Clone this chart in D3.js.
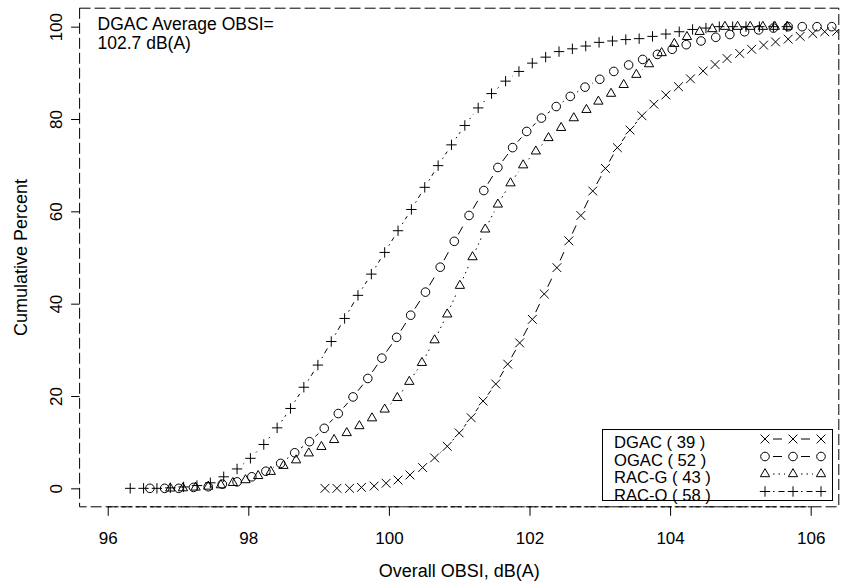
<!DOCTYPE html>
<html><head><meta charset="utf-8">
<script src="https://cdn.jsdelivr.net/npm/d3@7"></script>
<style>
body{margin:0;background:#fff}
svg{display:block}
text{font-family:"Liberation Sans",Arial,Helvetica,sans-serif;fill:#000}
</style>
</head><body>
<svg id="c" width="843" height="587"></svg>
<script>
// ---- data ----
const xTicks = [96, 98, 100, 102, 104, 106];
const yTicks = [0, 20, 40, 60, 80, 100];
const xTitle = "Overall OBSI, dB(A)";
const yTitle = "Cumulative Percent";
const noteLines = ["DGAC Average OBSI=", "102.7 dB(A)"];
const legendLabels = ["DGAC ( 39 )", "OGAC ( 52 )", "RAC-G ( 43 )", "RAC-O ( 58 )"];

const dgacX = [99.09, 99.26, 99.44, 99.61, 99.79, 99.96, 100.13, 100.30, 100.48, 100.65,
  100.83, 101.00, 101.17, 101.34, 101.52, 101.69, 101.86, 102.04, 102.21, 102.39,
  102.56, 102.73, 102.90, 103.08, 103.25, 103.43, 103.60, 103.77, 103.94, 104.12,
  104.29, 104.47, 104.64, 104.81, 104.99, 105.16, 105.33, 105.50, 105.68, 105.85,
  106.03, 106.20, 106.37];
const dgacY = [0, 0, 0, 0.2, 0.5, 1.1, 1.8, 2.9, 4.5, 6.6,
  9.1, 12.0, 15.3, 18.9, 22.6, 26.9, 31.5, 36.6, 42.1, 47.8,
  53.6, 59.1, 64.4, 69.3, 73.8, 77.6, 80.7, 83.2, 85.2, 87.0,
  88.7, 90.4, 91.8, 93.1, 94.2, 95.1, 96.0, 96.7, 97.3, 97.9,
  98.5, 98.9, 99.0];

const ogacX = [96.60, 96.81, 97.01, 97.22, 97.43, 97.63, 97.84, 98.05, 98.25, 98.46,
  98.66, 98.87, 99.08, 99.28, 99.49, 99.70, 99.90, 100.11, 100.31, 100.52,
  100.73, 100.93, 101.14, 101.35, 101.55, 101.76, 101.96, 102.17, 102.38, 102.58,
  102.79, 103.00, 103.20, 103.41, 103.61, 103.82, 104.03, 104.23, 104.44, 104.65,
  104.85, 105.06, 105.26, 105.47, 105.68, 105.88, 106.09, 106.30];
const ogacY = [0, 0, 0, 0.2, 0.35, 0.9, 1.4, 2.5, 3.7, 5.4,
  7.7, 10.1, 13.0, 16.2, 19.8, 23.8, 28.2, 32.7, 37.5, 42.5,
  47.9, 53.5, 59.1, 64.5, 69.5, 73.8, 77.3, 80.2, 82.7, 84.9,
  86.9, 88.6, 90.3, 91.7, 92.9, 94.0, 95.1, 96.1, 96.9, 97.7,
  98.3, 98.9, 99.3, 99.7, 100, 100, 100, 100];

const racgX = [96.89, 97.07, 97.25, 97.43, 97.61, 97.78, 97.96, 98.14, 98.32, 98.50,
  98.68, 98.86, 99.04, 99.22, 99.40, 99.58, 99.76, 99.94, 100.12, 100.29,
  100.47, 100.65, 100.83, 101.01, 101.19, 101.37, 101.55, 101.73, 101.91, 102.09,
  102.27, 102.45, 102.63, 102.81, 102.98, 103.16, 103.34, 103.52, 103.70, 103.88,
  104.06, 104.24, 104.42, 104.60, 104.78, 104.96, 105.14, 105.32, 105.49, 105.67];
const racgY = [0, 0.05, 0.2, 0.4, 0.7, 1.2, 1.8, 2.7, 3.6, 4.9,
  6.1, 7.6, 9.0, 10.5, 12.0, 13.5, 15.2, 17.1, 19.6, 23.1,
  27.2, 32.1, 37.7, 43.9, 50.1, 56.1, 61.5, 66.1, 70.0, 73.0,
  75.9, 78.1, 80.2, 82.0, 83.8, 85.5, 87.4, 89.6, 91.9, 94.3,
  96.3, 97.8, 98.9, 99.5, 100, 100, 100, 100, 100, 100];

const racoX = [96.32, 96.51, 96.70, 96.89, 97.08, 97.27, 97.46, 97.65, 97.84, 98.03,
  98.22, 98.41, 98.60, 98.79, 98.99, 99.18, 99.37, 99.56, 99.75, 99.94,
  100.13, 100.32, 100.51, 100.70, 100.89, 101.08, 101.27, 101.46, 101.66, 101.85,
  102.04, 102.23, 102.42, 102.61, 102.80, 102.99, 103.18, 103.37, 103.56, 103.75,
  103.94, 104.13, 104.32, 104.51, 104.70, 104.89, 105.08, 105.27, 105.47, 105.66];
const racoY = [0, 0, 0, 0.1, 0.3, 0.6, 1.2, 2.5, 4.2, 6.5,
  9.5, 13.1, 17.3, 21.9, 26.7, 31.8, 36.8, 41.8, 46.4, 51.1,
  55.8, 60.4, 65.2, 69.9, 74.4, 78.6, 82.4, 85.5, 88.2, 90.3,
  92.1, 93.4, 94.6, 95.2, 95.8, 96.6, 96.9, 97.2, 97.4, 97.9,
  98.4, 98.9, 99.4, 99.7, 100, 100, 100, 100, 100, 100];

const series = [
  {name: legendLabels[0], xs: dgacX, ys: dgacY, pch: "times",    dash: "9,5"},
  {name: legendLabels[1], xs: ogacX, ys: ogacY, pch: "circle",   dash: "9,5"},
  {name: legendLabels[2], xs: racgX, ys: racgY, pch: "triangle", dash: "1.5,4"},
  {name: legendLabels[3], xs: racoX, ys: racoY, pch: "plus",     dash: "1.5,4,6,4"}
];

// ---- layout ----
const FS_TITLE = 18, FS_TICK = 17, FS_LEG = 16.6, FS_NOTE = 17.5;
const svg = d3.select("#c");
const x = d3.scaleLinear().domain([95.6, 106.4]).range([79.6, 838.8]);
const y = d3.scaleLinear().domain([-4, 104]).range([506.8, 8.2]);
const [X0, X1] = x.range();
const [Y0, Y1] = y.range();

function glyph(pch, cx, cy) {
  const R = 4.3;
  if (pch === "circle") {
    const p = d3.path(); p.moveTo(cx + R, cy); p.arc(cx, cy, R, 0, 2 * Math.PI); return p.toString();
  }
  if (pch === "times") {
    const r = 4.4;
    return `M${cx - r},${cy - r}L${cx + r},${cy + r}M${cx - r},${cy + r}L${cx + r},${cy - r}`;
  }
  if (pch === "plus") {
    const r = 5.2;
    return `M${cx - r},${cy}L${cx + r},${cy}M${cx},${cy - r}L${cx},${cy + r}`;
  }
  // triangle (R style: apex 1.555R above, base 0.778R below)
  const Rt = 3.45, top = 1.555 * Rt, half = 1.3468 * Rt, bot = 0.7776 * Rt;
  return `M${cx},${cy - top}L${cx + half},${cy + bot}L${cx - half},${cy + bot}Z`;
}

function gapSegment(x0, y0, x1, y1, gap) {
  const dx = x1 - x0, dy = y1 - y0, d = Math.hypot(dx, dy);
  if (d <= 2 * gap) return null;
  const ux = dx / d, uy = dy / d;
  return [x0 + ux * gap, y0 + uy * gap, x1 - ux * gap, y1 - uy * gap];
}

const GAP = 8;

// clip
svg.append("defs").append("clipPath").attr("id", "plotclip")
  .append("rect").attr("x", X0).attr("y", Y1).attr("width", X1 - X0).attr("height", Y0 - Y1);

const plot = svg.append("g").attr("clip-path", "url(#plotclip)");

series.forEach(s => {
  const pts = s.xs.map((v, i) => [x(v), y(s.ys[i])]);
  const g = plot.append("g");
  for (let i = 0; i < pts.length - 1; i++) {
    const seg = gapSegment(pts[i][0], pts[i][1], pts[i + 1][0], pts[i + 1][1], GAP);
    if (!seg) continue;
    g.append("line").attr("x1", seg[0]).attr("y1", seg[1]).attr("x2", seg[2]).attr("y2", seg[3])
      .attr("stroke", "#000").attr("stroke-width", 1).attr("stroke-dasharray", s.dash);
  }
  g.selectAll("path.pt").data(pts).join("path").attr("class", "pt")
    .attr("d", d => glyph(s.pch, d[0], d[1]))
    .attr("fill", "none").attr("stroke", "#000").attr("stroke-width", 1);
});

// box
svg.append("rect").attr("x", X0).attr("y", Y1).attr("width", X1 - X0).attr("height", Y0 - Y1)
  .attr("fill", "none").attr("stroke", "#000").attr("stroke-width", 1).attr("stroke-dasharray", "11,4");

// axis line (R style, first to last tick)
svg.append("line").attr("x1", x(xTicks[0])).attr("x2", x(xTicks[xTicks.length - 1]))
  .attr("y1", Y0).attr("y2", Y0).attr("stroke", "#000").attr("stroke-dasharray", "4,3");

// x axis
const gx = svg.append("g").attr("transform", `translate(0,${Y0})`)
  .call(d3.axisBottom(x).tickValues(xTicks).tickSize(9).tickSizeOuter(0).tickFormat(d3.format("d")));
gx.select(".domain").remove();
gx.selectAll(".tick line").attr("stroke", "#000");
gx.selectAll(".tick text").attr("y", 36.8).attr("dy", null)
  .style("font-size", FS_TICK + "px").style("font-family", '"Liberation Sans",Arial,sans-serif').attr("fill", "#000");

// y axis
const gy = svg.append("g").attr("transform", `translate(${X0},0)`)
  .call(d3.axisLeft(y).tickValues(yTicks).tickSize(8.5).tickSizeOuter(0).tickFormat(d3.format("d")));
gy.select(".domain").remove();
gy.selectAll(".tick line").attr("stroke", "#000");
gy.selectAll(".tick text").attr("x", null).attr("dy", null)
  .attr("transform", "translate(-17.5,0) rotate(-90)").attr("text-anchor", "middle")
  .style("font-size", FS_TICK + "px").style("font-family", '"Liberation Sans",Arial,sans-serif').attr("fill", "#000");

// titles
svg.append("text").attr("x", (X0 + X1) / 2).attr("y", 577).attr("text-anchor", "middle")
  .style("font-size", FS_TITLE + "px").text(xTitle);
svg.append("text").attr("transform", `translate(27,${(Y0 + Y1) / 2}) rotate(-90)`).attr("text-anchor", "middle")
  .style("font-size", FS_TITLE + "px").text(yTitle);

// note (two lines)
noteLines.forEach((t, i) => {
  svg.append("text").attr("x", 97.5).attr("y", 29.5 + i * 19.6).style("font-size", FS_NOTE + "px").text(t);
});

// legend
const lg = svg.append("g");
lg.append("rect").attr("x", 602.5).attr("y", 429.5).attr("width", 230).attr("height", 71)
  .attr("fill", "#fff").attr("stroke", "#000").attr("stroke-width", 1);
const symX = [765, 793, 821];
series.forEach((s, i) => {
  const cy = 441.5 + i * 17.5;
  lg.append("text").attr("x", 614).attr("y", cy + 6.5).style("font-size", FS_LEG + "px").text(s.name);
  const sy = cy - 2.5;
  for (let k = 0; k < symX.length - 1; k++) {
    const seg = gapSegment(symX[k], sy, symX[k + 1], sy, GAP);
    if (seg) lg.append("line").attr("x1", seg[0]).attr("y1", seg[1]).attr("x2", seg[2]).attr("y2", seg[3])
      .attr("stroke", "#000").attr("stroke-dasharray", s.dash);
  }
  symX.forEach(sx => lg.append("path").attr("d", glyph(s.pch, sx, sy))
    .attr("fill", "none").attr("stroke", "#000"));
});
</script>
</body></html>
